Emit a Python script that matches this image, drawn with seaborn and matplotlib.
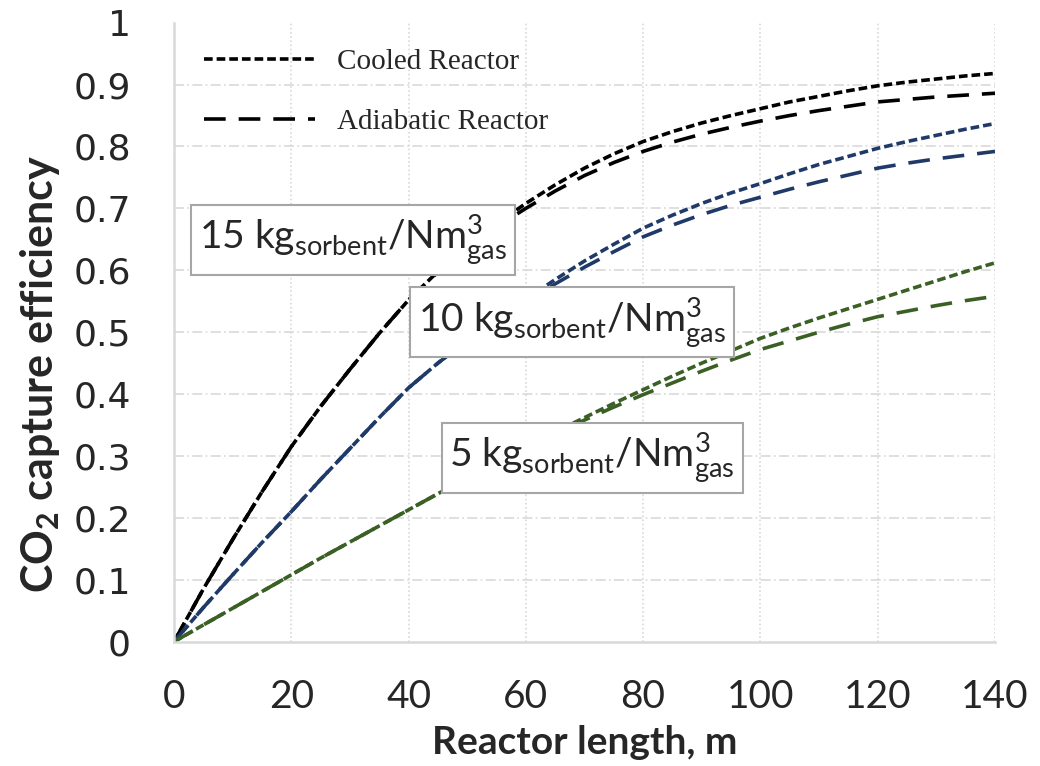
import numpy as np
import pandas as pd
import matplotlib
matplotlib.use("Agg")
import matplotlib.pyplot as plt
from matplotlib.lines import Line2D
import seaborn as sns

# data
length_m = [0, 5, 10, 15, 20, 25, 30, 35, 40, 45, 50, 55, 60, 65, 70,
            75, 80, 85, 90, 95, 100, 105, 110, 115, 120, 125, 130, 135, 140]
cooled_15 = [0, 0.085, 0.165, 0.242, 0.315, 0.380, 0.440, 0.498, 0.552, 0.598, 0.637, 0.675, 0.708, 0.738, 0.765,
             0.788, 0.808, 0.824, 0.838, 0.850, 0.861, 0.872, 0.881, 0.890, 0.898, 0.904, 0.909, 0.914, 0.918]
adiab_15 = [0, 0.085, 0.165, 0.242, 0.315, 0.380, 0.440, 0.498, 0.552, 0.597, 0.635, 0.670, 0.700, 0.728, 0.753,
            0.774, 0.792, 0.807, 0.820, 0.831, 0.841, 0.850, 0.858, 0.865, 0.872, 0.876, 0.880, 0.883, 0.886]
cooled_10 = [0, 0.055, 0.108, 0.160, 0.210, 0.262, 0.312, 0.362, 0.410, 0.450, 0.488, 0.521, 0.553, 0.585, 0.615,
             0.642, 0.668, 0.689, 0.708, 0.725, 0.740, 0.756, 0.771, 0.784, 0.797, 0.808, 0.818, 0.828, 0.837]
adiab_10 = [0, 0.055, 0.108, 0.160, 0.210, 0.262, 0.312, 0.362, 0.410, 0.450, 0.486, 0.518, 0.548, 0.578, 0.605,
            0.630, 0.654, 0.673, 0.690, 0.705, 0.718, 0.731, 0.743, 0.754, 0.765, 0.773, 0.780, 0.786, 0.792]
cooled_5 = [0, 0.027, 0.054, 0.081, 0.108, 0.135, 0.161, 0.187, 0.213, 0.239, 0.265, 0.290, 0.315, 0.339, 0.362,
            0.385, 0.407, 0.429, 0.450, 0.470, 0.490, 0.507, 0.523, 0.538, 0.553, 0.568, 0.583, 0.598, 0.612]
adiab_5 = [0, 0.027, 0.054, 0.081, 0.108, 0.135, 0.161, 0.187, 0.213, 0.239, 0.265, 0.290, 0.313, 0.336, 0.358,
           0.379, 0.399, 0.418, 0.437, 0.455, 0.472, 0.486, 0.500, 0.513, 0.525, 0.534, 0.543, 0.551, 0.558]

loadings = ["15", "10", "5"]
reactors = ["Cooled Reactor", "Adiabatic Reactor"]
x_ticks = [0, 20, 40, 60, 80, 100, 120, 140]
y_ticks = [0, 0.1, 0.2, 0.3, 0.4, 0.5, 0.6, 0.7, 0.8, 0.9, 1]
y_tick_labels = ["0", "0.1", "0.2", "0.3", "0.4", "0.5", "0.6", "0.7", "0.8", "0.9", "1"]

series = {
    ("15", "Cooled Reactor"): cooled_15, ("15", "Adiabatic Reactor"): adiab_15,
    ("10", "Cooled Reactor"): cooled_10, ("10", "Adiabatic Reactor"): adiab_10,
    ("5", "Cooled Reactor"): cooled_5, ("5", "Adiabatic Reactor"): adiab_5,
}
rows = []
for (load, reactor), vals in series.items():
    for xv, yv in zip(length_m, vals):
        rows.append({"length": xv, "eff": yv, "loading": load, "reactor": reactor})
df = pd.DataFrame(rows)

sns.set_style("white")
plt.rcParams["font.family"] = ["Lato", "DejaVu Sans"]
plt.rcParams["mathtext.fontset"] = "custom"
plt.rcParams["mathtext.rm"] = "Lato"

palette = {"15": "#000000", "10": "#1F3A68", "5": "#3B6026"}
dash_map = {"Cooled Reactor": (2.4, 1.1), "Adiabatic Reactor": (6.0, 3.6)}

fig = plt.figure(figsize=(10.4, 7.66), dpi=100)
ax = fig.add_axes([0.1673, 0.1623, 0.7894, 0.8081])

sns.lineplot(data=df, x="length", y="eff", hue="loading", style="reactor",
             palette=palette, dashes=dash_map, linewidth=2.6, legend=False,
             ax=ax, sort=False)

ax.set_xlim(0, 140)
ax.set_ylim(0, 1)
ax.set_xticks(x_ticks)
ax.set_yticks(y_ticks)
ax.set_yticklabels(y_tick_labels)

# grid: dash-dot horizontal, dotted vertical
ax.grid(False)
for yv in y_ticks[1:-1]:
    ax.axhline(yv, color="#D9D9D9", lw=1.2, ls=(0, (6, 2, 1, 2)), zorder=0)
for xv in x_ticks[1:]:
    ax.axvline(xv, color="#D9D9D9", lw=1.2, ls=(0, (1, 1.5)), zorder=0)

for s in ["top", "right"]:
    ax.spines[s].set_visible(False)
for s in ["left", "bottom"]:
    ax.spines[s].set_color("#D9D9D9")
    ax.spines[s].set_linewidth(1.8)

ax.tick_params(axis="both", length=0)
ax.tick_params(axis="y", pad=31)
ax.tick_params(axis="x", pad=27)
for lab in ax.get_yticklabels():
    lab.set_fontfamily("DejaVu Sans")
    lab.set_fontsize(26)
for lab in ax.get_xticklabels():
    lab.set_fontfamily("Lato")
    lab.set_fontsize(28)

ax.set_xlabel("Reactor length, m", fontsize=28, fontweight="bold")
ax.set_ylabel("CO$_\\mathregular{2}$ capture efficiency", fontsize=31, fontweight="bold")
ax.xaxis.set_label_coords(0.5, -0.135)
ax.yaxis.set_label_coords(-0.137, 0.432)

# legend in black
handles = [Line2D([], [], color="black", lw=2.6, dashes=dash_map[r]) for r in reactors]
leg = ax.legend(handles, reactors, loc="upper left", frameon=False,
                prop={"family": "Liberation Serif", "size": 21},
                handlelength=3.8, handletextpad=0.75, labelspacing=1.15,
                bbox_to_anchor=(0.005, 1.0))

# loading labels in boxes
box_pos = {"15": (30.5, 0.649), "10": (67.9, 0.516), "5": (71.3, 0.297)}
for load in loadings:
    bx, by = box_pos[load]
    ax.text(bx, by,
            load + " kg$_\\mathregular{sorbent}$/Nm$^\\mathregular{3}_\\mathregular{gas}$",
            fontsize=28, ha="center", va="center", zorder=5,
            bbox=dict(boxstyle="square,pad=0.2", fc="white", ec="#A6A6A6", lw=1.5))

fig.savefig("out.png", dpi=100)
